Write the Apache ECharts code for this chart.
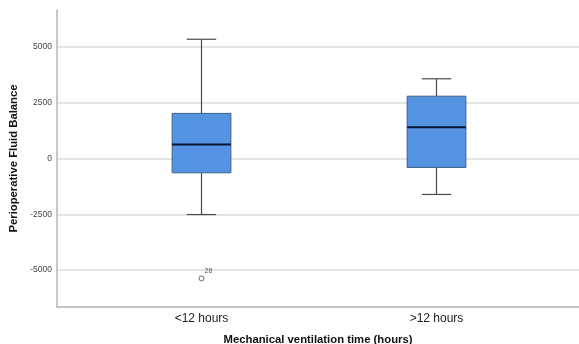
<!DOCTYPE html>
<html>
<head>
<meta charset="utf-8">
<script src="https://cdn.jsdelivr.net/npm/echarts@6/dist/echarts.min.js"></script>
<style>html,body{margin:0;padding:0;background:#fff}#c{width:579px;height:344px}</style>
</head>
<body>
<div id="c"></div>
<script>
const categories = ['<12 hours', '>12 hours'];
// [min, Q1, median, Q3, max]
const boxStats = [
  [-2510, -640, 630, 2020, 5340],
  [-1610, -400, 1400, 2790, 3570]
];
const outliers = [[0, -5370, '28']];
const yTicks = [-5000, -2500, 0, 2500, 5000];
const yMin = -6650, yMax = 6650;

const FONT = 'Liberation Sans';
const chart = echarts.init(document.getElementById('c'));
chart.setOption({
  animation: false,
  textStyle: { fontFamily: FONT },
  grid: [
    { left: 57, right: 0, top: 10, bottom: 37, outerBoundsMode: 'none', containLabel: false },
    { left: 84, right: 25, top: 10, bottom: 37, outerBoundsMode: 'none', containLabel: false }
  ],
  xAxis: [
    {
      gridIndex: 0, type: 'value', min: 0, max: 1,
      axisLine: { show: true, onZero: false, lineStyle: { color: '#b4b4b4', width: 1.5 } },
      axisTick: { show: false }, axisLabel: { show: false }, splitLine: { show: false },
      name: 'Mechanical ventilation time (hours)', nameLocation: 'middle', nameGap: 27,
      nameTextStyle: { fontWeight: 'bold', fontSize: 11.3, color: '#111', fontFamily: FONT }
    },
    {
      gridIndex: 1, type: 'category', data: categories,
      axisLine: { show: false }, axisTick: { show: false },
      axisLabel: { fontSize: 12, color: '#222', margin: 6, fontFamily: FONT }
    }
  ],
  yAxis: [
    {
      gridIndex: 0, type: 'value', min: yMin, max: yMax,
      axisLine: { show: true, onZero: false, lineStyle: { color: '#b4b4b4', width: 1.5 } },
      axisTick: { show: false, customValues: yTicks },
      axisLabel: { customValues: yTicks, formatter: v => String(v), fontSize: 8.5, color: '#444', margin: 5, fontFamily: FONT },
      splitLine: { show: true, lineStyle: { color: '#dcdcdc', width: 1.5 } },
      name: 'Perioperative Fluid Balance', nameLocation: 'middle', nameGap: 35,
      nameTextStyle: { fontWeight: 'bold', fontSize: 11.3, color: '#111', fontFamily: FONT }
    },
    {
      gridIndex: 1, type: 'value', min: yMin, max: yMax, show: false,
      splitLine: { show: false }
    }
  ],
  series: [
    {
      type: 'custom',
      xAxisIndex: 1, yAxisIndex: 1,
      data: boxStats.map((s, i) => [i].concat(s)),
      encode: { x: 0, y: [1, 2, 3, 4, 5] },
      renderItem: function (params, api) {
        const x = api.value(0);
        const pMin = api.coord([x, api.value(1)]);
        const pQ1 = api.coord([x, api.value(2)]);
        const pMed = api.coord([x, api.value(3)]);
        const pQ3 = api.coord([x, api.value(4)]);
        const pMax = api.coord([x, api.value(5)]);
        const band = api.size([1, 0])[0];
        const bw = band * 0.25;
        const cw = bw / 2;
        const cx = pMed[0];
        const wStyle = { stroke: '#4a4a4a', lineWidth: 1.2 };
        return {
          type: 'group',
          children: [
            { type: 'line', shape: { x1: cx, y1: pMax[1], x2: cx, y2: pQ3[1] }, style: wStyle },
            { type: 'line', shape: { x1: cx, y1: pQ1[1], x2: cx, y2: pMin[1] }, style: wStyle },
            { type: 'line', shape: { x1: cx - cw / 2, y1: pMax[1], x2: cx + cw / 2, y2: pMax[1] }, style: wStyle },
            { type: 'line', shape: { x1: cx - cw / 2, y1: pMin[1], x2: cx + cw / 2, y2: pMin[1] }, style: wStyle },
            { type: 'rect', shape: { x: cx - bw / 2, y: pQ3[1], width: bw, height: pQ1[1] - pQ3[1] },
              style: { fill: '#5494e3', stroke: '#3d5f8c', lineWidth: 1 } },
            { type: 'line', shape: { x1: cx - bw / 2, y1: pMed[1], x2: cx + bw / 2, y2: pMed[1] },
              style: { stroke: '#0b1633', lineWidth: 2 } }
          ]
        };
      },
      z: 2
    },
    {
      type: 'scatter',
      xAxisIndex: 1, yAxisIndex: 1,
      symbol: 'circle', symbolSize: 5,
      itemStyle: { color: '#fff', borderColor: '#444', borderWidth: 1 },
      data: outliers.map(o => ({ value: [o[0], o[1]], name: o[2] })),
      label: {
        show: true, position: 'right', offset: [-5, -7],
        formatter: p => p.name, fontSize: 7, color: '#333', fontFamily: FONT
      },
      z: 3
    }
  ]
});
</script>
</body>
</html>
